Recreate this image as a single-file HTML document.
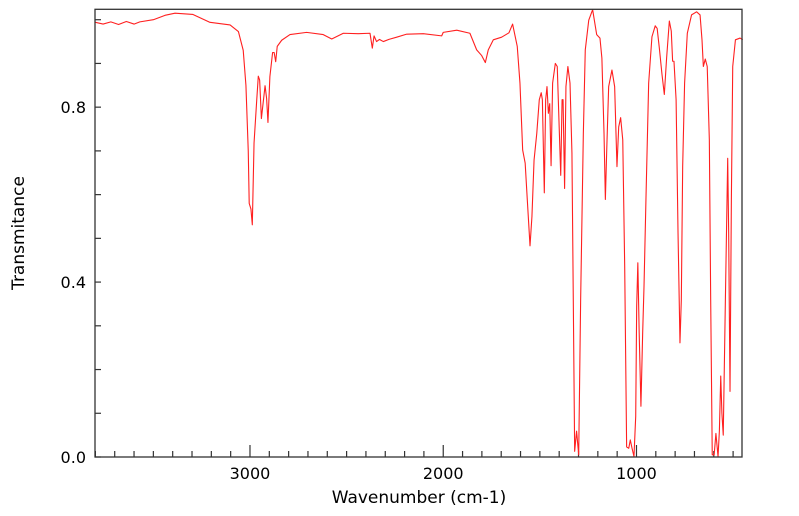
<!DOCTYPE html>
<html><head><meta charset="utf-8"><style>
html,body{margin:0;padding:0;background:#fff;}
svg{display:block;font-family:"DejaVu Sans","Liberation Sans",sans-serif;}
</style></head><body>
<svg id="chart" width="799" height="516" viewBox="0 0 799 516" xmlns="http://www.w3.org/2000/svg">
<g id="axes"></g>
<path id="line" fill="none" stroke="#ff2020" stroke-width="1.1" stroke-linejoin="round"></path>
<rect x="95" y="9.3" width="647" height="447.7" fill="none" stroke="#333" stroke-width="1.3"></rect>
<text x="419" y="503" font-size="17" text-anchor="middle">Wavenumber (cm-1)</text>
<text transform="translate(24,233) rotate(-90)" font-size="17" text-anchor="middle">Transmitance</text>
</svg>
<script>
const wavenumbers=[3800,3760,3720,3680,3640,3600,3570,3500,3440,3388,3295,3207,3103,3060,3035,3021,3009,3004,2995,2988,2979,2965,2957,2950,2941,2922,2914,2907,2897,2883,2875,2867,2859,2836,2793,2707,2621,2577,2517,2440,2379,2367,2358,2345,2330,2310,2281,2241,2189,2103,2008,2000,1930,1862,1827,1801,1782,1767,1741,1698,1660,1641,1617,1603,1589,1576,1565,1551,1541,1530,1516,1503,1493,1487,1477,1470,1463,1456,1449,1442,1434,1420,1410,1399,1392,1385,1380,1372,1365,1355,1344,1334,1327,1320,1310,1299,1289,1275,1265,1247,1227,1206,1189,1179,1168,1161,1154,1144,1127,1113,1106,1101,1092,1082,1071,1061,1051,1040,1032,1023,1013,1004,999,993,986,977,968,961,951,937,920,903,893,882,868,856,844,830,820,813,806,795,785,775,768,761,751,737,715,689,671,661,654,644,634,623,616,608,598,589,578,571,564,558,551,540,528,523,516,509,502,488,464,450];
const transmittance=[0.994,0.990,0.995,0.989,0.996,0.990,0.995,1.000,1.010,1.015,1.012,0.994,0.988,0.973,0.930,0.850,0.700,0.580,0.567,0.531,0.718,0.817,0.871,0.862,0.774,0.849,0.820,0.765,0.870,0.925,0.925,0.904,0.939,0.953,0.966,0.971,0.966,0.956,0.969,0.968,0.969,0.935,0.963,0.950,0.955,0.950,0.955,0.960,0.967,0.968,0.963,0.971,0.976,0.969,0.931,0.918,0.902,0.931,0.954,0.960,0.970,0.990,0.939,0.855,0.702,0.672,0.588,0.483,0.550,0.679,0.740,0.817,0.833,0.817,0.604,0.817,0.847,0.786,0.808,0.666,0.855,0.900,0.893,0.740,0.644,0.817,0.817,0.614,0.847,0.893,0.855,0.695,0.359,0.013,0.059,0.005,0.359,0.740,0.931,0.999,1.023,0.966,0.958,0.912,0.740,0.589,0.702,0.847,0.885,0.847,0.740,0.664,0.755,0.776,0.725,0.435,0.023,0.020,0.039,0.020,0.001,0.093,0.345,0.444,0.284,0.116,0.284,0.391,0.589,0.855,0.961,0.986,0.980,0.936,0.875,0.829,0.913,0.997,0.974,0.905,0.905,0.817,0.512,0.261,0.359,0.664,0.855,0.969,1.011,1.018,1.011,0.954,0.893,0.910,0.893,0.725,0.359,0.005,0.005,0.054,0.001,0.060,0.185,0.100,0.050,0.359,0.683,0.512,0.150,0.589,0.893,0.954,0.958,0.954];
const xTicks=[1000,2000,3000];
const yTicks=[0.0,0.4,0.8];
const NS='http://www.w3.org/2000/svg';
const X0=95,X1=742,Y0=457,Y1=9.3,WMAX=3802,WMIN=454,TMIN=0,TMAX=1.0238;
function xs(w){return X0+(WMAX-w)/(WMAX-WMIN)*(X1-X0);}
function ys(t){return Y0-(t-TMIN)/(TMAX-TMIN)*(Y0-Y1);}
let d='';
for(let i=0;i<wavenumbers.length;i++){
  const t=Math.max(TMIN,Math.min(TMAX,transmittance[i]));
  d+=(i?'L':'M')+xs(wavenumbers[i]).toFixed(2)+','+ys(t).toFixed(2);
}
document.getElementById('line').setAttribute('d',d);
const ax=document.getElementById('axes');
function mk(tag,attrs){const e=document.createElementNS(NS,tag);for(const k in attrs)e.setAttribute(k,attrs[k]);ax.appendChild(e);return e;}
for(let w=500;w<=3800;w+=100){
  const major=w%1000===0;
  const l=mk('line',{x1:xs(w),x2:xs(w),y1:Y0,y2:Y0-(major?12:6),stroke:'#333','stroke-width':1.2});
  
  
}
xTicks.forEach(w=>{
  const t=mk('text',{x:xs(w),y:479,'font-size':16,'text-anchor':'middle'});
  t.textContent=String(w);
  
  
});
for(let k=0;k<=10;k++){
  const v=k/10;
  const l=mk('line',{x1:X0,x2:X0+6,y1:ys(v),y2:ys(v),stroke:'#333','stroke-width':1.2});
  
  
}
yTicks.forEach(v=>{
  const t=mk('text',{x:86,y:ys(v)+6,'font-size':16,'text-anchor':'end'});
  t.textContent=v.toFixed(1);
  
  
});
</script>
</body></html>
